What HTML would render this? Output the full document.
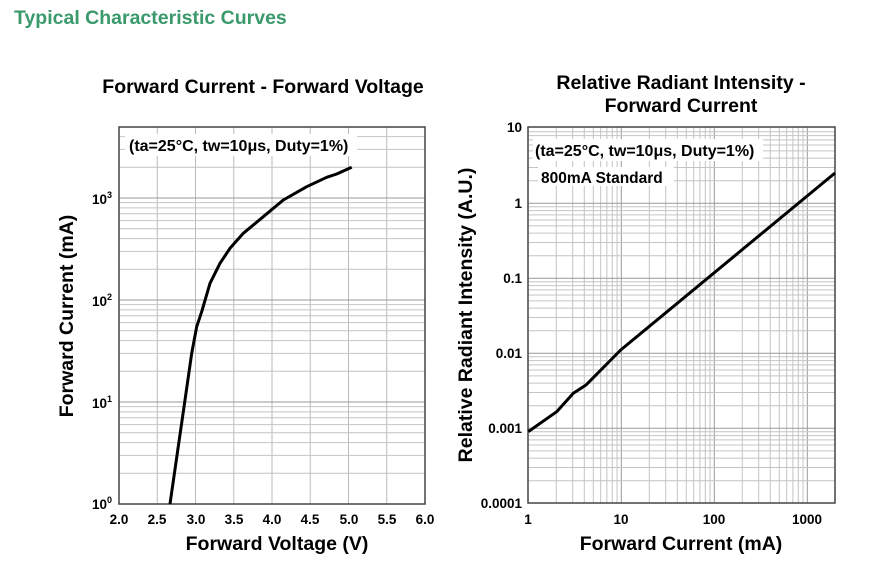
<!DOCTYPE html>
<html><head><meta charset="utf-8"><style>
html,body{margin:0;padding:0;background:#fff;width:888px;height:584px;overflow:hidden}
svg{display:block;font-family:"Liberation Sans",Arial,sans-serif;font-weight:bold}
</style></head><body>
<svg id="s" width="888" height="584" xmlns="http://www.w3.org/2000/svg">
<text x="14" y="24" font-size="19.5" fill="#3a9a6c">Typical Characteristic Curves</text>
<g id="g1"></g><g id="g2"></g>
<rect x="119" y="127" width="306" height="377" fill="none" stroke="#444" stroke-width="1.5"/>
<rect x="528" y="127" width="307" height="376" fill="none" stroke="#444" stroke-width="1.5"/>
<rect x="125" y="134" width="232" height="22" fill="#fff"/>
<text x="129" y="151" font-size="16">(ta=25°C, tw=10μs, Duty=1%)</text>
<rect x="533" y="139" width="230" height="22" fill="#fff"/>
<text x="535" y="156" font-size="16">(ta=25°C, tw=10μs, Duty=1%)</text>
<rect x="538" y="167" width="136" height="19" fill="#fff"/>
<text x="541" y="183" font-size="15.5">800mA Standard</text>
<text x="263" y="93" font-size="19.5" text-anchor="middle">Forward Current - Forward Voltage</text>
<text x="681" y="89" font-size="19.5" text-anchor="middle">Relative Radiant Intensity -</text>
<text x="681" y="112" font-size="19.5" text-anchor="middle">Forward Current</text>
<text x="277" y="550" font-size="19.5" text-anchor="middle">Forward Voltage (V)</text>
<text x="681" y="550" font-size="19.5" text-anchor="middle">Forward Current (mA)</text>
<text transform="translate(73,316) rotate(-90)" font-size="19.5" text-anchor="middle">Forward Current (mA)</text>
<text transform="translate(472,315) rotate(-90)" font-size="19.5" text-anchor="middle">Relative Radiant Intensity (A.U.)</text>
<g font-size="13.5" text-anchor="middle">
<text x="119" y="524">2.0</text><text x="157" y="524">2.5</text><text x="196" y="524">3.0</text><text x="234" y="524">3.5</text><text x="272" y="524">4.0</text><text x="310" y="524">4.5</text><text x="349" y="524">5.0</text><text x="387" y="524">5.5</text><text x="425" y="524">6.0</text>
<text x="528" y="524">1</text><text x="621" y="524">10</text><text x="714" y="524">100</text><text x="807" y="524">1000</text>
</g>
<g font-size="13.5" text-anchor="end">
<text x="112" y="509">10<tspan font-size="9" dy="-6">0</tspan></text>
<text x="112" y="408">10<tspan font-size="9" dy="-6">1</tspan></text>
<text x="112" y="306">10<tspan font-size="9" dy="-6">2</tspan></text>
<text x="112" y="204">10<tspan font-size="9" dy="-6">3</tspan></text>
<text x="522" y="132">10</text><text x="522" y="208">1</text><text x="522" y="283">0.1</text><text x="522" y="358">0.01</text><text x="522" y="433">0.001</text><text x="522" y="508">0.0001</text>
</g>
<polyline fill="none" stroke="#000" stroke-width="3" stroke-linejoin="round" points="170,504 177.3,453.3 185,400 191.7,353.3 196.7,326.7 201.7,311.7 210,283.3 220,263.3 230,248.3 243.3,233.3 263.3,216.7 283.3,200 306.7,186.7 326.7,177.3 336.7,174 351.7,167.3"/>
<polyline fill="none" stroke="#000" stroke-width="3" stroke-linejoin="round" points="528.3,431.6 556.7,411.7 573.3,393.3 586,385 620.7,350 835,173"/>
</svg>
<script>
var NS="http://www.w3.org/2000/svg";
function ln(g,x1,y1,x2,y2,c){var l=document.createElementNS(NS,"line");l.setAttribute("x1",x1);l.setAttribute("y1",y1);l.setAttribute("x2",x2);l.setAttribute("y2",y2);l.setAttribute("stroke",c);l.setAttribute("stroke-width","1");g.appendChild(l);}
var g1=document.getElementById("g1"),g2=document.getElementById("g2");
for(var i=1;i<8;i++){var x=119+i*38.25;ln(g1,x,127,x,504,"#bbb");}
for(var d=0;d<4;d++)for(var k=1;k<10;k++){var y=504-102*(d+Math.log10(k));if(y>127&&y<504)ln(g1,119,y,425,y,k==1?"#999":"#c4c4c4");}
for(var d=0;d<4;d++)for(var k=1;k<10;k++){var x=528.3+93*(d+Math.log10(k));if(x>528.5&&x<835)ln(g2,x,127,x,503,k==1?"#999":"#c4c4c4");}
for(var d=0;d<5;d++)for(var k=1;k<10;k++){var y=503.3-75*(d+Math.log10(k));if(y>127.5&&y<503)ln(g2,528,y,835,y,k==1?"#999":"#c4c4c4");}
</script>
</body></html>
